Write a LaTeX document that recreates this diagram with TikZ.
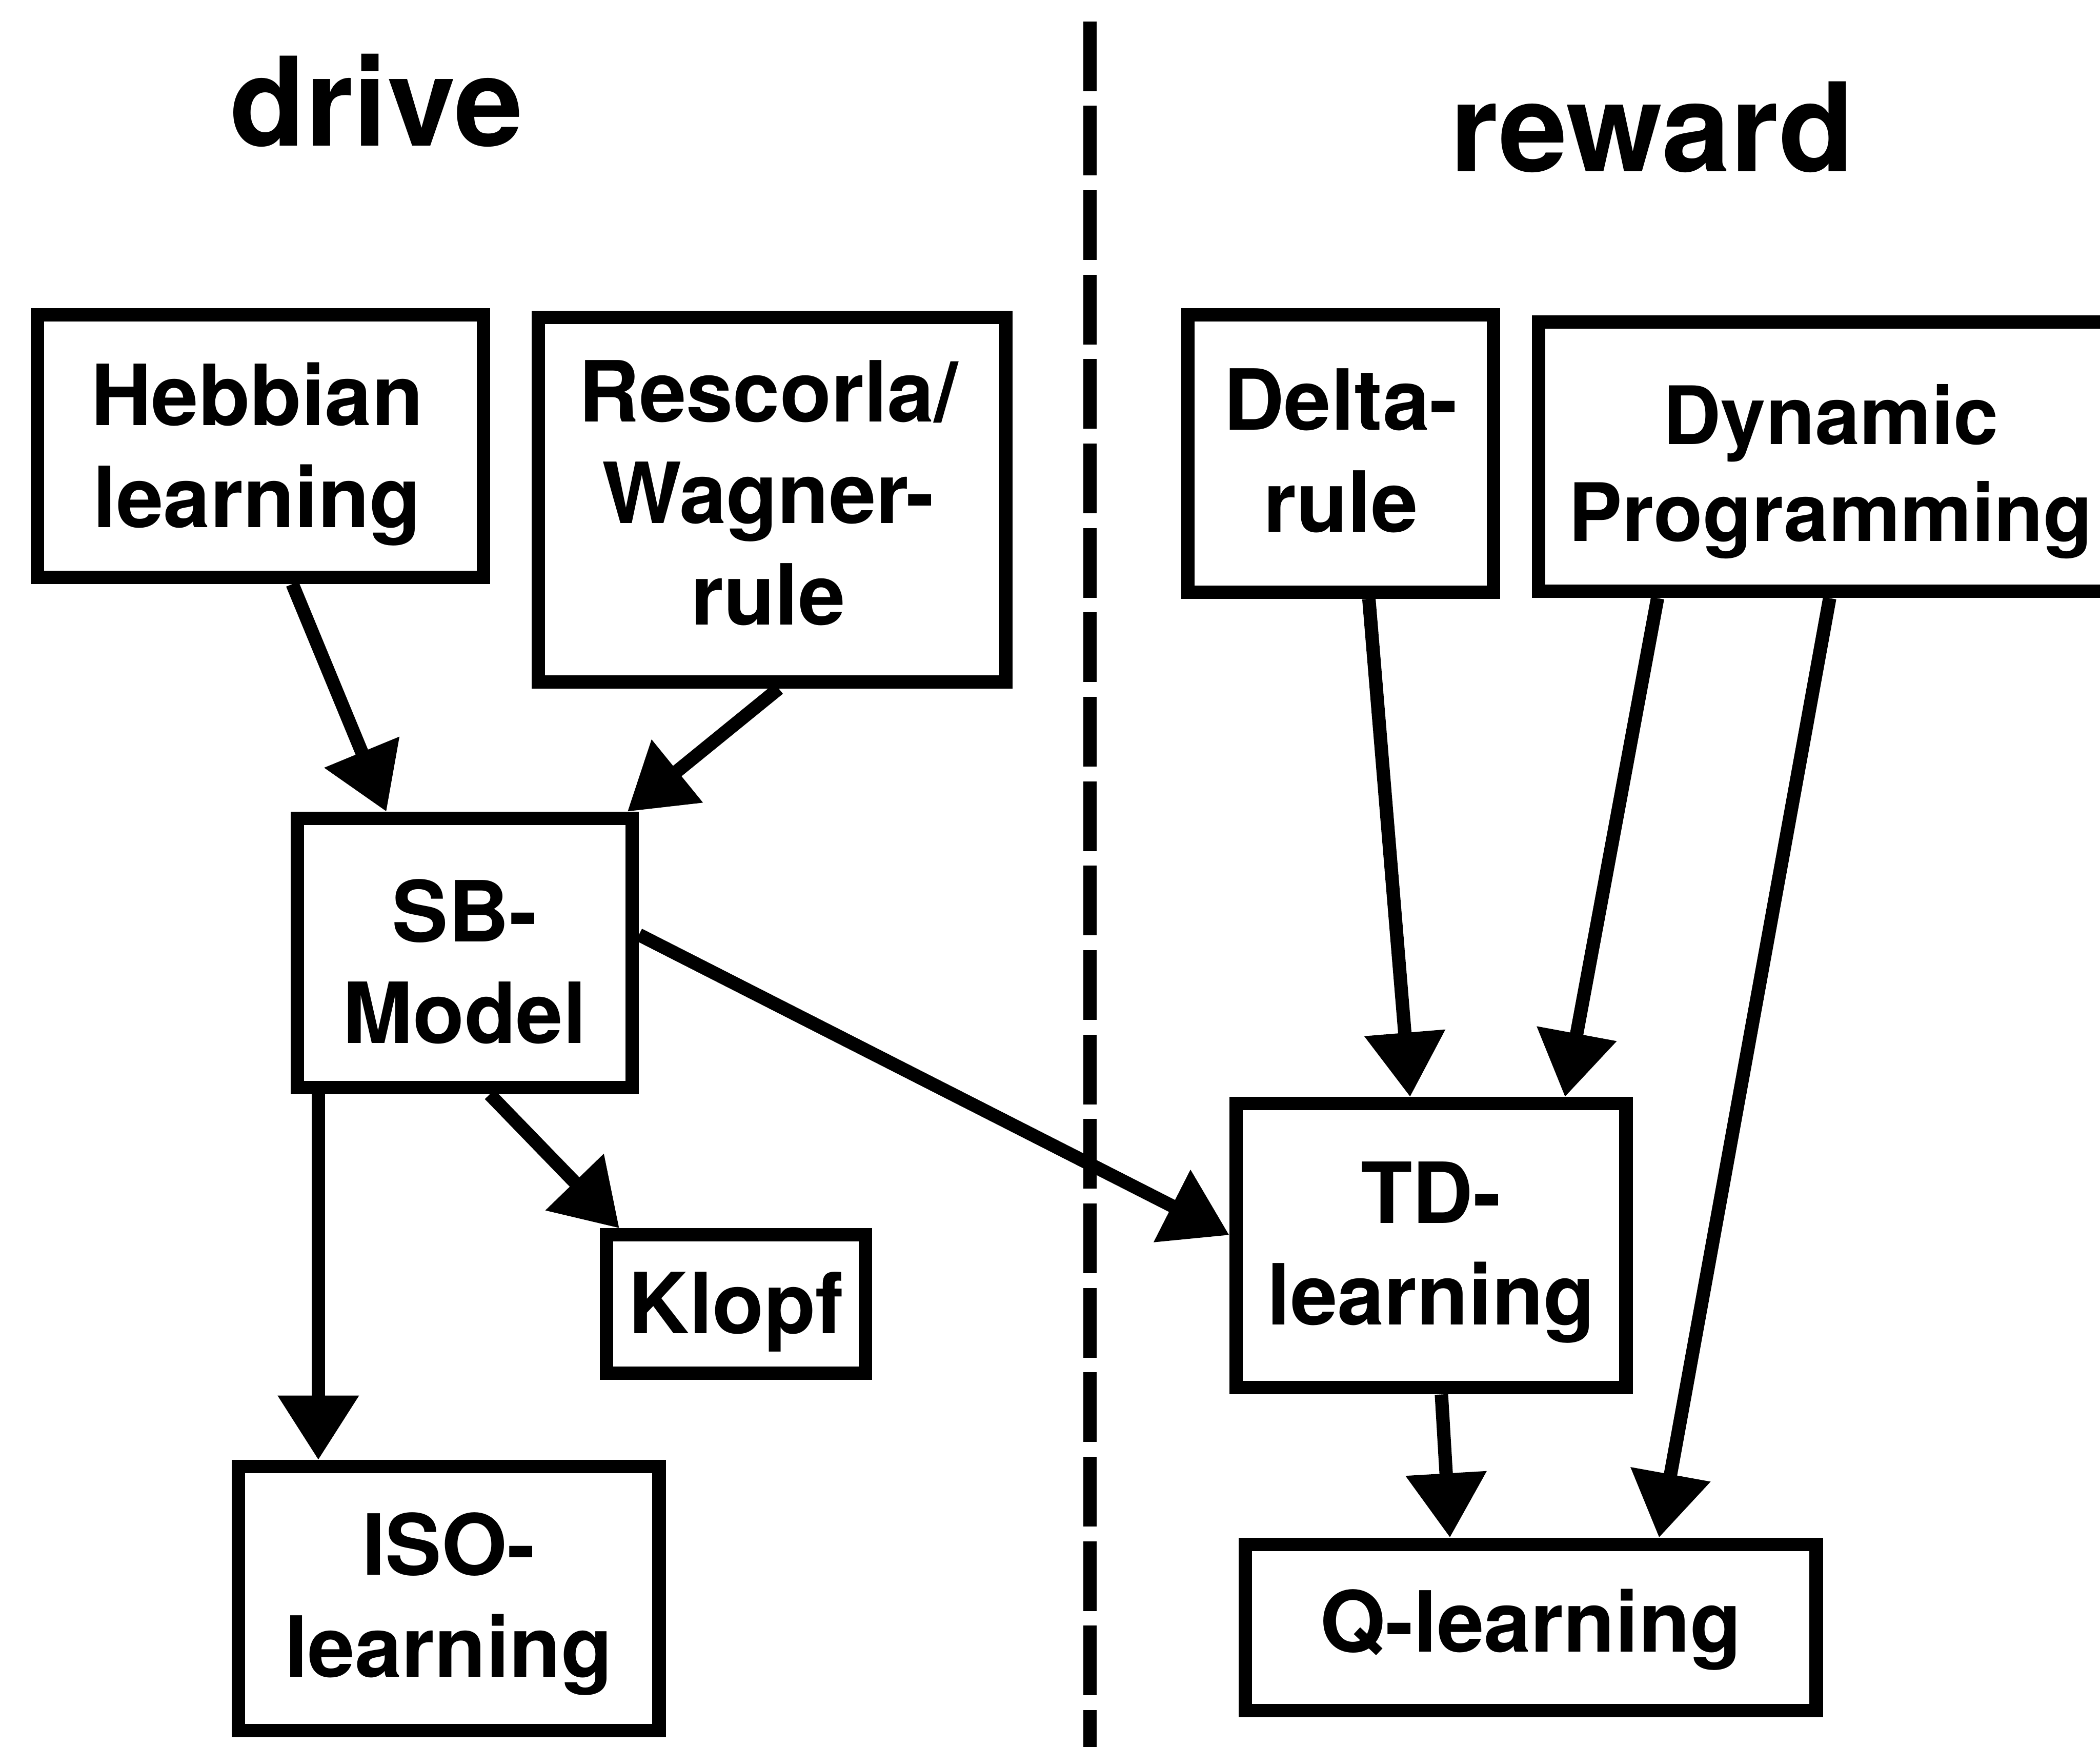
\documentclass[tikz,border=0pt]{standalone}
\usepackage{fontspec}
\setmainfont{TeX Gyre Heros}
\usetikzlibrary{arrows.meta}
\begin{document}
\begin{tikzpicture}[x=0.01cm,y=-0.01cm,
  box/.style={draw,line width=0.1cm,inner sep=0pt},
  boxtext/.style={inner sep=0pt,align=center,
    font=\fontsize{17.9}{21.6}\selectfont\bfseries},
  heading/.style={font=\fontsize{26.2}{30}\selectfont\bfseries,anchor=base,inner sep=0pt},
  arr/.style={line width=0.1cm,-{Triangle[length=0.48cm,width=0.58cm]}},
  divider/.style={line width=0.1cm,dash pattern=on 0.52cm off 0.11cm}]
\useasboundingbox[fill=white] (0,0) rectangle (1568,1304);

% column headings
\node[heading] (drive) at (281,109) {drive};
\node[heading] (reward) at (1233.5,128) {reward};

% separating dashed line
\coordinate (divtop) at (814,16);
\coordinate (divbot) at (814,1310);
\draw[divider] (divtop) -- (divbot);

% drive side: frames
\node[box,minimum width=3.33cm,minimum height=1.96cm] (hebb) at (194.5,333) {};
\node[box,minimum width=3.49cm,minimum height=2.72cm] (resc) at (576.5,373) {};
\node[box,minimum width=2.50cm,minimum height=2.01cm] (sb) at (347,711.5) {};
\node[box,minimum width=1.93cm,minimum height=1.03cm] (klopf) at (549.5,973.5) {};
\node[box,minimum width=3.14cm,minimum height=1.97cm] (iso) at (335,1193.5) {};

% reward side: frames
\node[box,minimum width=2.28cm,minimum height=2.07cm] (delta) at (1001,338.5) {};
\node[box,minimum width=4.38cm,minimum height=2.01cm] (dp) at (1368,341) {};
\node[box,minimum width=2.91cm,minimum height=2.12cm] (td) at (1068.5,930) {};
\node[box,minimum width=4.26cm,minimum height=1.24cm] (q) at (1143,1215) {};

% labels inside the frames
\node[boxtext] (hebbtext) at ([xshift=-0.025cm,yshift=-0.06cm]hebb.center) {Hebbian\\learning};
\node[boxtext] (resctext) at ([xshift=-0.03cm,yshift=0.05cm]resc.center) {Rescorla/\\Wagner-\\rule};
\node[boxtext] (sbtext) at ([yshift=-0.065cm]sb.center) {SB-\\Model};
\node[boxtext] (klopftext) at ([yshift=-0.06cm]klopf.center) {Klopf};
\node[boxtext] (isotext) at ([yshift=-0.04cm]iso.center) {ISO-\\learning};
\node[boxtext] (deltatext) at ([yshift=0.02cm]delta.center) {Delta-\\rule};
\node[boxtext,font=\fontsize{17.1}{20.6}\selectfont\bfseries] (dptext) at ([xshift=-0.01cm,yshift=-0.11cm]dp.center) {Dynamic\\Programming};
\node[boxtext] (tdtext) at ([yshift=-0.05cm]td.center) {TD-\\learning};
\node[boxtext] (qtext) at ([yshift=-0.015cm]q.center) {Q-learning};

% connections
\draw[arr] (hebb.-77) -- (sb.119);
\draw[arr] (resc.-88.4) -- (sb.41.6);
\draw[arr] (sb.6.4) -- (td.177);
\draw[arr] (sb.-80.8) -- (klopf.147.7);
\draw[arr] (sb.-136.7) -- (sb.-136.7 |- iso.north);
\draw[arr] (delta.-79.6) -- (td.98.8);
\draw[arr] (dp.-141.8) -- (td.48.9);
\draw[arr] (dp.-91.9) -- (q.35.7);
\draw[arr] (td.-86.1) -- (q.132.4);
\end{tikzpicture}
\end{document}
